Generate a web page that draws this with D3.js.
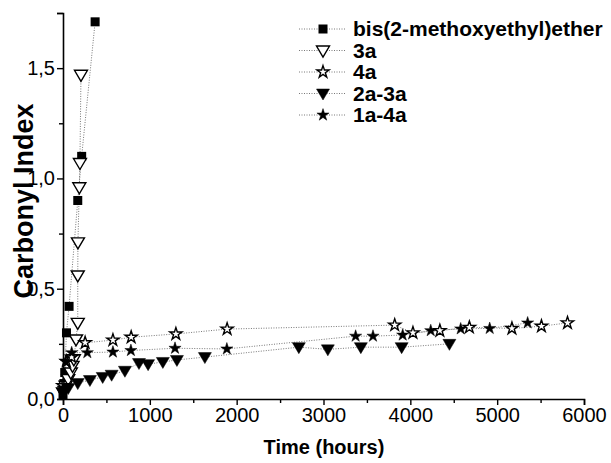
<!DOCTYPE html>
<html>
<head>
<meta charset="utf-8">
<title>Carbonyl Index</title>
<script src="https://cdn.jsdelivr.net/npm/d3@7"></script>
<style>
  body { margin: 0; background: #fff; }
  text { font-family: "Liberation Sans", Arial, sans-serif; fill: #000; }
</style>
</head>
<body>
<div id="chart"></div>
<script>
// series data (time in hours, carbonyl index)
var bisT = [0, 10, 20, 40, 70, 170, 215, 370];
var bisV = [0.02, 0.07, 0.12, 0.30, 0.42, 0.90, 1.10, 1.71];

var t3a = [0, 30, 60, 90, 110, 125, 150, 170, 170, 172, 188, 195, 207];
var v3a = [0.03, 0.06, 0.09, 0.12, 0.15, 0.18, 0.27, 0.345, 0.56, 0.71, 0.96, 1.07, 1.47];

var t4a = [0, 40, 100, 255, 575, 785, 1300, 1890, 3820, 4030, 4340, 4680, 5170, 5510, 5810];
var v4a = [0.06, 0.17, 0.19, 0.255, 0.267, 0.28, 0.295, 0.317, 0.335, 0.30, 0.31, 0.325, 0.32, 0.33, 0.345];

var t2a3a = [0, 60, 170, 310, 457, 560, 713, 875, 980, 1150, 1312, 1634, 2716, 3050, 3430, 3900, 4450];
var v2a3a = [0.03, 0.05, 0.072, 0.086, 0.10, 0.11, 0.128, 0.163, 0.158, 0.168, 0.177, 0.19, 0.235, 0.225, 0.235, 0.235, 0.25];

var t1a4a = [0, 30, 100, 280, 575, 782, 1290, 1887, 3370, 3570, 3912, 4235, 4580, 4914, 5351];
var v1a4a = [0.05, 0.17, 0.21, 0.21, 0.213, 0.22, 0.23, 0.227, 0.285, 0.285, 0.29, 0.31, 0.318, 0.32, 0.345];

var names = ["bis(2-methoxyethyl)ether", "3a", "4a", "2a-3a", "1a-4a"];
var shapes = ["square", "tri-open", "star-open", "tri", "star"];
var xTicks = [0, 1000, 2000, 3000, 4000, 5000, 6000];
var yTicks = [0, 0.5, 1.0, 1.5];

var series = [
  {t: bisT, v: bisV},
  {t: t3a, v: v3a},
  {t: t4a, v: v4a},
  {t: t2a3a, v: v2a3a},
  {t: t1a4a, v: v1a4a}
];

var width = 611, height = 463;
var svg = d3.select("#chart").append("svg")
    .attr("width", width)
    .attr("height", height);

var x = d3.scaleLinear().domain([0, 6000]).range([63, 584]);
var y = d3.scaleLinear().domain([0, 1.75]).range([399, 13]);

var fmt = function(d) { return d3.format(".1f")(d).replace(".", ","); };

// axes
var xAxis = svg.append("g")
    .attr("transform", "translate(0,399)")
    .call(d3.axisBottom(x).tickValues(xTicks).tickSize(6).tickPadding(3).tickFormat(d3.format("d")));
xAxis.selectAll(".tick text").style("font-size", "20px");
svg.append("g")
    .attr("transform", "translate(0,399)")
    .call(d3.axisBottom(x).tickValues(d3.range(500, 6000, 1000)).tickSize(4).tickFormat(""))
    .select(".domain").remove();

var yAxis = svg.append("g")
    .attr("transform", "translate(63,0)")
    .call(d3.axisLeft(y).tickValues(yTicks.concat([1.75])).tickSize(6).tickPadding(2).tickFormat(function(d) { return d === 1.75 ? "" : fmt(d); }));
yAxis.selectAll(".tick text").style("font-size", "20px");
svg.append("g")
    .attr("transform", "translate(63,0)")
    .call(d3.axisLeft(y).tickValues([0.25, 0.75, 1.25]).tickSize(4).tickFormat(""))
    .select(".domain").remove();
svg.selectAll(".domain").attr("stroke-width", 1.6);
svg.selectAll(".tick line").attr("stroke-width", 1.4);

svg.append("text")
    .attr("x", 324).attr("y", 454)
    .attr("text-anchor", "middle")
    .style("font-size", "20px").style("font-weight", "bold")
    .text("Time (hours)");
svg.append("text")
    .attr("transform", "translate(33,201) rotate(-90)")
    .attr("text-anchor", "middle")
    .style("font-size", "27px").style("font-weight", "bold")
    .text("Carbonyl Index");

// markers
var starPath = d3.symbol().type(d3.symbolStar).size(46)();
function drawMarker(g, shape) {
  if (shape === "square") {
    g.append("rect").attr("x", -4.5).attr("y", -4.5).attr("width", 9).attr("height", 9).attr("fill", "#000");
  } else if (shape === "tri" || shape === "tri-open") {
    g.append("path").attr("d", "M-6.5,-4.5L6.5,-4.5L0,6.5Z")
      .attr("fill", shape === "tri" ? "#000" : "#fff")
      .attr("stroke", "#000").attr("stroke-width", shape === "tri" ? 0.5 : 1.4);
  } else {
    g.append("path").attr("d", starPath)
      .attr("fill", shape === "star" ? "#000" : "#fff")
      .attr("stroke", "#000").attr("stroke-width", shape === "star" ? 0.5 : 1.4);
  }
}

var line = d3.line().x(function(d) { return x(d[0]); }).y(function(d) { return y(d[1]); });

series.forEach(function(s, i) {
  var pts = s.t.map(function(t, j) { return [t, s.v[j]]; });
  svg.append("path")
    .attr("d", line(pts))
    .attr("fill", "none")
    .attr("stroke", "#555")
    .attr("stroke-width", 0.8)
    .attr("stroke-dasharray", "1,1.5");
});
series.forEach(function(s, i) {
  s.t.forEach(function(t, j) {
    var g = svg.append("g").attr("transform", "translate(" + x(t) + "," + y(s.v[j]) + ")");
    drawMarker(g, shapes[i]);
  });
});

// legend
var legend = svg.append("g");
names.forEach(function(n, i) {
  var yy = 29 + i * 21.5;
  legend.append("line")
    .attr("x1", 299).attr("x2", 346).attr("y1", yy).attr("y2", yy)
    .attr("stroke", "#555").attr("stroke-width", 0.8).attr("stroke-dasharray", "1,1.5");
  var g = legend.append("g").attr("transform", "translate(323," + yy + ")");
  drawMarker(g, shapes[i]);
  legend.append("text")
    .attr("x", 353).attr("y", yy + 7)
    .style("font-size", "21px").style("font-weight", "bold")
    .text(n);
});
</script>
</body>
</html>
